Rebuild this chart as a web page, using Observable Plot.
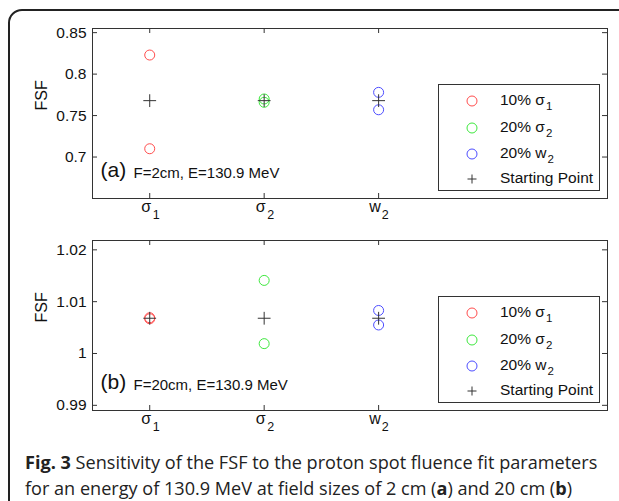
<!DOCTYPE html>
<html><head><meta charset="utf-8">
<script src="https://cdn.jsdelivr.net/npm/d3@7"></script>
<script src="https://cdn.jsdelivr.net/npm/@observablehq/plot@0.6"></script>
<style>
body{margin:0;background:#fff;}
#wrap{position:relative;width:619px;height:501px;overflow:hidden;font-family:"Liberation Sans",Arial,sans-serif;background:#fff;}
#frame{position:absolute;left:8px;top:9px;width:700px;height:600px;border:2px solid #222;border-radius:14px;}
.panel{position:absolute;left:0;}
.legend{position:absolute;left:438px;width:160px;border:1px solid #333;background:#fff;font-size:15.5px;color:#111;}
.legend .row{position:absolute;left:0;width:160px;height:20px;}
.legend svg{position:absolute;left:27px;top:4px;}
.legend .lab{position:absolute;left:61px;top:0px;white-space:nowrap;}
.legend sub{font-size:11.5px;vertical-align:-5px;margin-left:1px;}
#caption{position:absolute;left:25px;top:449px;font-family:"Open Sans",sans-serif;font-size:18.1px;line-height:26px;color:#222;white-space:nowrap;}
</style></head>
<body>
<div id="wrap">
  <div id="frame"></div>
  <div id="pa" class="panel" style="top:0"></div>
  <div id="pb" class="panel" style="top:230px"></div>
  <div id="caption"></div>
</div>
<script>
// ---------- data ----------
const paramX = [1, 2, 3];
const paramBase = ["σ", "σ", "w"];
const paramSub = ["1", "2", "2"];
const seriesBase = ["10% σ", "20% σ", "20% w"];
const seriesSub = ["1", "2", "2"];
const seriesColors = ["#ff4d4d", "#3ee83e", "#4d4dff"];
const startLabel = "Starting Point";

// Panel (a): F=2cm
const aStart = [0.768, 0.768, 0.768];
const aHigh = [0.823, 0.770, 0.778];
const aLow = [0.710, 0.766, 0.757];
const aTicks = [0.7, 0.75, 0.8, 0.85];
const aTickLabels = ["0.7", "0.75", "0.8", "0.85"];
const aDomain = [0.65, 0.855];

// Panel (b): F=20cm
const bStart = [1.0068, 1.0068, 1.0068];
const bHigh = [1.0069, 1.0141, 1.0083];
const bLow = [1.0067, 1.0019, 1.0055];
const bTicks = [0.99, 1, 1.01, 1.02];
const bTickLabels = ["0.99", "1", "1.01", "1.02"];
const bDomain = [0.989, 1.0218];

const panelTags = ["(a)", "(b)"];
const panelNotes = ["F=2cm, E=130.9 MeV", "F=20cm, E=130.9 MeV"];

// ---------- drawing ----------
const W = 619, ML = 92, MR = 12, PH = 170;
const PW = W - ML - MR;
const font = "Liberation Sans, Arial, sans-serif";

function panel(start, high, low, domain, ticks, tickLabels, tag, note, mt, height) {
  const pts = [];
  paramX.forEach((x, i) => {
    pts.push({x, y: high[i], c: seriesColors[i]});
    pts.push({x, y: low[i], c: seriesColors[i]});
  });
  const st = paramX.map((x, i) => ({x, y: start[i]}));
  const mb = height - mt - PH;
  return Plot.plot({
    width: W, height, marginLeft: ML, marginRight: MR, marginTop: mt, marginBottom: mb,
    x: {domain: [0.5, 5], axis: null},
    y: {domain, axis: null},
    style: {fontFamily: font, background: "transparent", color: "#111"},
    marks: [
      Plot.frame({stroke: "#333", strokeWidth: 1}),
      Plot.tickX(paramX, {x: d => d, insetTop: PH - 5, stroke: "#333"}),
      Plot.tickX(paramX, {x: d => d, insetBottom: PH - 5, stroke: "#333"}),
      Plot.tickY(ticks, {y: d => d, insetRight: PW - 5, stroke: "#333"}),
      Plot.tickY(ticks, {y: d => d, insetLeft: PW - 5, stroke: "#333"}),
      Plot.text(ticks, {y: d => d, text: (d, i) => tickLabels[i], frameAnchor: "left", textAnchor: "end", dx: -6, fontSize: 15.5}),
      Plot.text(paramX, {x: d => d, text: (d, i) => paramBase[i], frameAnchor: "bottom", lineAnchor: "middle", dy: 8.5, dx: -3.5, fontSize: 16}),
      Plot.text(paramX, {x: d => d, text: (d, i) => paramSub[i], frameAnchor: "bottom", lineAnchor: "middle", dy: 16, dx: 6.5, fontSize: 12.5}),
      Plot.text(["FSF"], {text: d => d, frameAnchor: "left", rotate: -90, dx: -51, dy: -3, fontSize: 16}),
      Plot.text([tag], {text: d => d, frameAnchor: "bottom-left", textAnchor: "start", lineAnchor: "middle", dx: 8, dy: -28, fontSize: 21}),
      Plot.text([note], {text: d => d, frameAnchor: "bottom-left", textAnchor: "start", lineAnchor: "middle", dx: 41, dy: -25, fontSize: 15}),
      Plot.dot(pts, {x: "x", y: "y", stroke: "c", r: 5, strokeWidth: 1}),
      Plot.dot(st, {x: "x", y: "y", symbol: "plus", r: 4.2, stroke: "#333", strokeWidth: 1})
    ]
  });
}

document.getElementById("pa").appendChild(panel(aStart, aHigh, aLow, aDomain, aTicks, aTickLabels, panelTags[0], panelNotes[0], 28, 230));
document.getElementById("pb").appendChild(panel(bStart, bHigh, bLow, bDomain, bTicks, bTickLabels, panelTags[1], panelNotes[1], 10, 215));

function legend(top, height) {
  const lg = document.createElement("div");
  lg.className = "legend";
  lg.style.top = top + "px";
  lg.style.height = height + "px";
  const rowsY = [6, 33, 59, 84];
  seriesBase.forEach((b, i) => {
    const r = document.createElement("div");
    r.className = "row"; r.style.top = rowsY[i] + "px";
    r.innerHTML = `<svg width="12" height="12"><circle cx="6" cy="6" r="5" fill="none" stroke="${seriesColors[i]}" stroke-width="1"/></svg><span class="lab">${b}<sub>${seriesSub[i]}</sub></span>`;
    lg.appendChild(r);
  });
  const r = document.createElement("div");
  r.className = "row"; r.style.top = rowsY[3] + "px";
  r.innerHTML = `<svg width="12" height="12"><path d="M6,1.5V10.5M1.5,6H10.5" stroke="#333" stroke-width="1"/></svg><span class="lab">${startLabel}</span>`;
  lg.appendChild(r);
  document.getElementById("wrap").appendChild(lg);
}
legend(84, 105);
legend(296, 105);

document.getElementById("caption").innerHTML =
  "<b>Fig. 3</b> Sensitivity of the FSF to the proton spot fluence fit parameters<br>for an energy of 130.9 MeV at field sizes of 2 cm (<b>a</b>) and 20 cm (<b>b</b>)";
</script>
</body></html>
